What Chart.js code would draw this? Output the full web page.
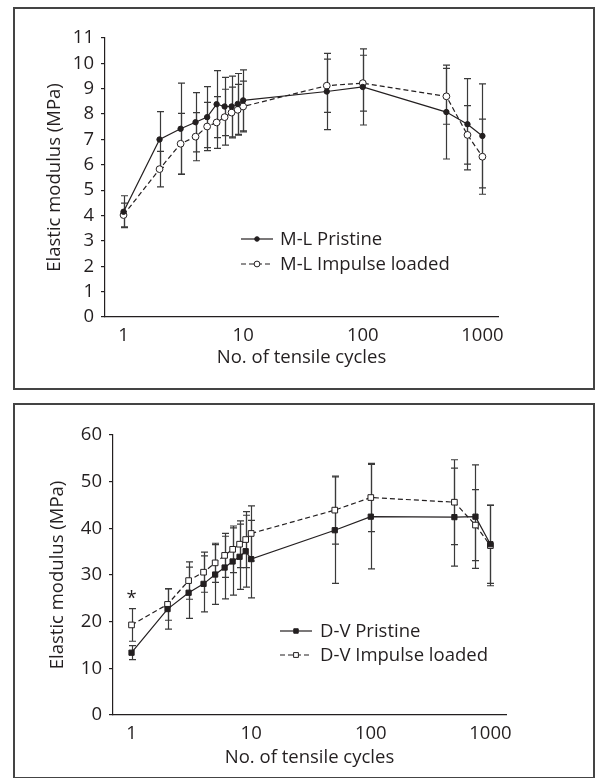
<!DOCTYPE html>
<html>
<head>
<meta charset="utf-8">
<script src="https://cdn.jsdelivr.net/npm/chart.js@4"></script>
<style>
  body { margin: 0; background: #fff; width: 595px; height: 778px; position: relative; overflow: hidden; }
  .panel { position: absolute; box-sizing: border-box; border: 2px solid #444; background: #fff; }
  canvas { position: absolute; left: 0; }
</style>
</head>
<body>
<div class="panel" style="left:13px; top:7px; width:582px; height:383px;"></div>
<div class="panel" style="left:13px; top:403px; width:582px; height:376px;"></div>
<canvas id="chart_ml" width="595" height="395" style="top:0"></canvas>
<canvas id="chart_dv" width="595" height="383" style="top:395px"></canvas>
<script>
// ── data ─────────────────────────────────────────────────
const cycles      = [1, 2, 3, 4, 5, 6, 7, 8, 9, 10, 50, 100, 500, 750, 1000];
const xTickValues = [1, 10, 100, 1000];

const mlPristine   = [4.15, 7.0, 7.42, 7.68, 7.88, 8.39, 8.3, 8.3, 8.4, 8.54, 8.89, 9.07, 8.08, 7.6, 7.14];
const mlPristineSd = [0.63, 1.1, 1.8, 1.17, 1.2, 1.32, 1.15, 1.2, 1.2, 1.2, 1.5, 1.5, 1.85, 1.8, 2.05];
const mlImpulse    = [4.02, 5.83, 6.83, 7.11, 7.51, 7.67, 7.88, 8.06, 8.17, 8.3, 9.12, 9.22, 8.7, 7.18, 6.32];
const mlImpulseSd  = [0.47, 0.7, 1.2, 0.95, 0.95, 1.02, 1.1, 1.0, 1.0, 1.0, 1.05, 1.1, 1.1, 1.15, 1.48];

const dvPristine   = [13.35, 22.7, 26.2, 28.1, 30.1, 31.6, 32.9, 33.9, 35.1, 33.4, 39.6, 42.5, 42.4, 42.5, 36.6];
const dvPristineSd = [1.5, 4.3, 5.5, 6.0, 6.4, 6.7, 7.2, 7.0, 7.7, 8.3, 11.4, 11.2, 10.5, 11.1, 8.4];
const dvImpulse    = [19.3, 23.7, 28.8, 30.6, 32.6, 34.2, 35.5, 36.6, 37.6, 38.9, 43.9, 46.6, 45.6, 40.7, 36.3];
const dvImpulseSd  = [3.5, 3.4, 4.0, 4.3, 4.2, 4.7, 5.0, 5.0, 6.0, 5.9, 7.3, 7.3, 9.1, 7.6, 8.6];
const dvSignificant = [1];   // cycles marked with *

// ── style ────────────────────────────────────────────────
const INK  = "#231f20";
const BAR  = "#3a3a3a";
const FONT = "'Open Sans', sans-serif";
const FS   = 18.5;

const toPoints = (vals) => cycles.map((c, k) => ({ x: c, y: vals[k] }));

function drawMarker(ctx, ds, x, y, scale = 1) {
  const r = ds.pointRadius * scale;
  ctx.save();
  ctx.fillStyle = ds.pointBackgroundColor;
  ctx.strokeStyle = ds.pointBorderColor;
  ctx.lineWidth = ds.pointBorderWidth;
  ctx.beginPath();
  if (ds.pointStyle === "rect") {
    const h = r * Math.SQRT1_2;
    ctx.rect(x - h, y - h, 2 * h, 2 * h);
  } else {
    ctx.arc(x, y, r, 0, Math.PI * 2);
  }
  ctx.fill();
  ctx.stroke();
  ctx.restore();
}

// ── plugins ──────────────────────────────────────────────
const errorBars = {
  id: "errorBars",
  beforeDatasetsDraw(chart) {
    const { ctx, scales: { x, y } } = chart;
    ctx.save();
    ctx.strokeStyle = BAR;
    ctx.lineWidth = 1.2;
    chart.data.datasets.forEach((ds) => {
      if (!ds.errors) return;
      ds.data.forEach((pt, j) => {
        const px  = Math.round(x.getPixelForValue(pt.x)) + 0.5;
        const top = y.getPixelForValue(pt.y + ds.errors[j]);
        const bot = y.getPixelForValue(pt.y - ds.errors[j]);
        ctx.beginPath();
        ctx.moveTo(px, top);       ctx.lineTo(px, bot);
        ctx.moveTo(px - 3.5, top); ctx.lineTo(px + 3.5, top);
        ctx.moveTo(px - 3.5, bot); ctx.lineTo(px + 3.5, bot);
        ctx.stroke();
      });
    });
    ctx.restore();
  },
};

const boxLegend = {
  id: "boxLegend",
  afterDraw(chart, args, opts) {
    const { ctx } = chart;
    ctx.save();
    ctx.font = `${FS}px ${FONT}`;
    ctx.textBaseline = "middle";
    chart.data.datasets.forEach((ds, i) => {
      const yy = opts.rows[i];
      ctx.strokeStyle = ds.borderColor;
      ctx.lineWidth = ds.borderWidth;
      ctx.setLineDash(ds.borderDash || []);
      ctx.beginPath();
      ctx.moveTo(opts.x0, yy);
      ctx.lineTo(opts.x1, yy);
      ctx.stroke();
      ctx.setLineDash([]);
      drawMarker(ctx, ds, (opts.x0 + opts.x1) / 2, yy, 0.85);
      ctx.fillStyle = INK;
      ctx.fillText(ds.label, opts.textX, yy + 1);
    });
    ctx.restore();
  },
};

const stars = {
  id: "stars",
  afterDatasetsDraw(chart, args, opts) {
    if (!opts.cycles) return;
    const { ctx, scales: { x, y } } = chart;
    const ds = chart.data.datasets[1];
    ctx.save();
    ctx.font = `${FS}px ${FONT}`;
    ctx.fillStyle = INK;
    ctx.textAlign = "center";
    ctx.textBaseline = "middle";
    opts.cycles.forEach((c) => {
      const k = cycles.indexOf(c);
      const top = y.getPixelForValue(ds.data[k].y + ds.errors[k]);
      ctx.fillText("*", x.getPixelForValue(c), top - 10);
    });
    ctx.restore();
  },
};

// ── chart builder ────────────────────────────────────────
function makeChart(id, cfg) {
  return new Chart(document.getElementById(id), {
    type: "line",
    data: { datasets: cfg.datasets },
    options: {
      responsive: false,
      animation: false,
      layout: { padding: cfg.padding },
      plugins: {
        legend: { display: false },
        tooltip: { enabled: false },
        boxLegend: cfg.legend,
        stars: { cycles: cfg.stars },
      },
      scales: {
        x: {
          type: "logarithmic",
          min: 0.7,
          max: 1350,
          afterBuildTicks: (s) => { s.ticks = xTickValues.map((v) => ({ value: v })); },
          afterFit: (s) => { s.height = 60; },
          grid:   { display: false },
          border: { display: true, color: INK, width: 1.2 },
          ticks:  { color: INK, padding: cfg.xTickPad, font: { family: FONT, size: FS }, callback: (v) => String(v), maxRotation: 0 },
          title:  { display: true, text: "No. of tensile cycles", color: INK, font: { family: FONT, size: FS }, padding: { top: 0, bottom: cfg.xTitlePad } },
        },
        y: {
          min: 0,
          max: cfg.yMax,
          afterFit: (s) => { s.width = 70; },
          grid:   { display: true, drawOnChartArea: false, drawTicks: true, tickLength: 4, color: INK, lineWidth: 1.2 },
          border: { display: true, color: INK, width: 1.2 },
          ticks:  { stepSize: cfg.yStep, color: INK, padding: 7, font: { family: FONT, size: FS } },
          title:  { display: true, text: "Elastic modulus (MPa)", color: INK, font: { family: FONT, size: FS }, padding: { top: cfg.yTitlePad, bottom: 0 } },
        },
      },
    },
    plugins: [errorBars, boxLegend, stars],
  });
}

const lineStyle = { borderColor: INK, borderWidth: 1.2, tension: 0, pointBorderColor: INK, pointBorderWidth: 1 };

// ── M-L panel ────────────────────────────────────────────
makeChart("chart_ml", {
  datasets: [
    { ...lineStyle, label: "M-L Pristine", data: toPoints(mlPristine), errors: mlPristineSd,
      pointStyle: "circle", pointRadius: 2.7, pointBackgroundColor: INK },
    { ...lineStyle, label: "M-L Impulse loaded", data: toPoints(mlImpulse), errors: mlImpulseSd,
      borderDash: [5, 3], pointStyle: "circle", pointRadius: 3.4, pointBackgroundColor: "#fff" },
  ],
  padding: { left: 35, right: 97, top: 38, bottom: 18 },
  yMax: 11, yStep: 1,
  xTickPad: 0, xTitlePad: 8, yTitlePad: 9,
  legend: { x0: 241, x1: 273, textX: 280, rows: [239, 264] },
});

// ── D-V panel ────────────────────────────────────────────
makeChart("chart_dv", {
  datasets: [
    { ...lineStyle, label: "D-V Pristine", data: toPoints(dvPristine), errors: dvPristineSd,
      pointStyle: "rect", pointRadius: 3.7, pointBackgroundColor: INK },
    { ...lineStyle, label: "D-V Impulse loaded", data: toPoints(dvImpulse), errors: dvImpulseSd,
      borderDash: [5, 3], pointStyle: "rect", pointRadius: 4.0, pointBackgroundColor: "#fff" },
  ],
  padding: { left: 43, right: 89, top: 40, bottom: 3 },
  yMax: 60, yStep: 10,
  xTickPad: 0, xTitlePad: 6, yTitlePad: 4,
  legend: { x0: 280, x1: 312, textX: 320, rows: [236, 260] },
  stars: dvSignificant,
});
</script>
</body>
</html>
